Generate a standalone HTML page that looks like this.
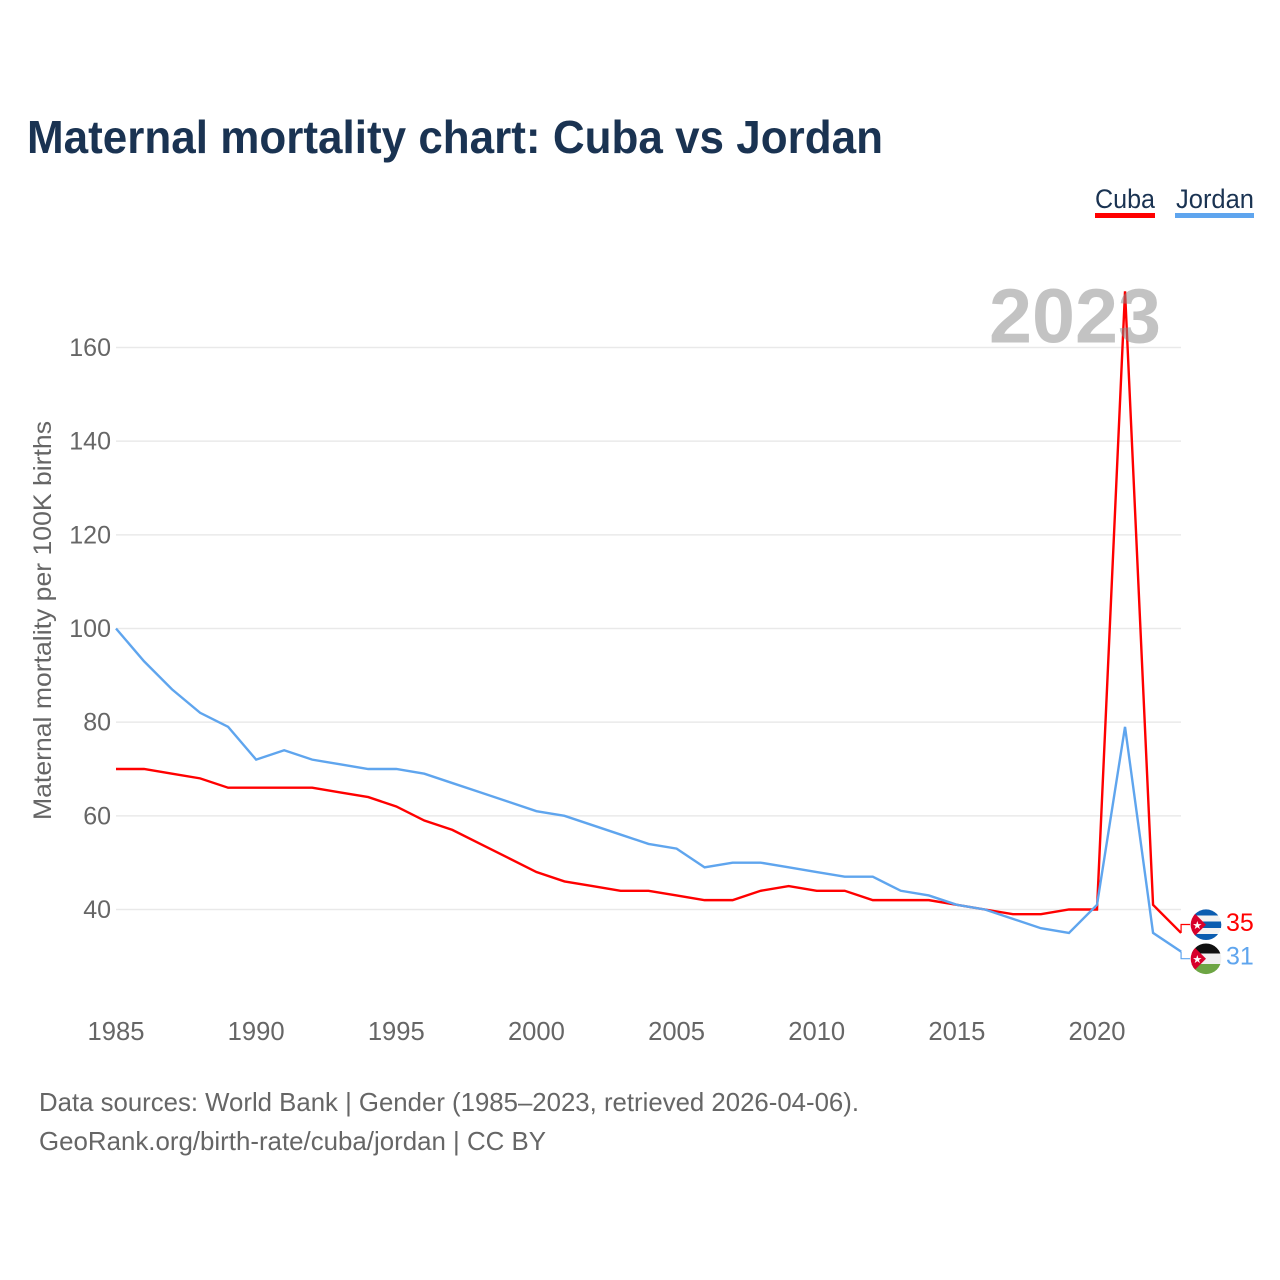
<!DOCTYPE html>
<html lang="en">
<head>
<meta charset="utf-8">
<title>Maternal mortality chart: Cuba vs Jordan</title>
<style>
html,body{margin:0;padding:0;background:#fff;width:1280px;height:1280px;overflow:hidden}
svg{display:block}
text{font-family:"Liberation Sans",sans-serif}
</style>
</head>
<body>
<svg id="chart" xmlns="http://www.w3.org/2000/svg" width="1280" height="1280" viewBox="0 0 1280 1280">
  <defs>
    <clipPath id="clip-cuba"><circle cx="1206" cy="924.7" r="15.3"/></clipPath>
    <clipPath id="clip-jordan"><circle cx="1206" cy="958.8" r="15.3"/></clipPath>
  </defs>
  <rect width="1280" height="1280" fill="#fff"/>
  <text x="27" y="153" font-size="46" font-weight="700" fill="#1a3352" textLength="856" lengthAdjust="spacingAndGlyphs">Maternal mortality chart: Cuba vs Jordan</text>

  <g>
    <text x="1095" y="208" font-size="27" fill="#1a3352" textLength="60" lengthAdjust="spacingAndGlyphs">Cuba</text>
    <rect x="1095" y="213" width="60" height="5" fill="#ff0000"/>
  </g>
  <g>
    <text x="1176" y="208" font-size="27" fill="#1a3352" textLength="78" lengthAdjust="spacingAndGlyphs">Jordan</text>
    <rect x="1175" y="213" width="79" height="5" fill="#5fa5ee"/>
  </g>

  <g id="grid"></g>
  <g id="y-ticks"></g>
  <g id="x-ticks"></g>
  <text transform="translate(51,820) rotate(-90)" font-size="25" fill="#666" textLength="399" lengthAdjust="spacingAndGlyphs">Maternal mortality per 100K births</text>

  <g id="series"></g>
  <text x="989" y="342.5" font-size="77" font-weight="700" fill="#888" fill-opacity="0.5" textLength="172" lengthAdjust="spacingAndGlyphs">2023</text>

  <g clip-path="url(#clip-cuba)">
    <rect x="1190" y="909" width="32" height="32" fill="#f2f2f2"/>
    <rect x="1190" y="909" width="32" height="6.5" fill="#0a5cb0"/>
    <rect x="1190" y="921.5" width="32" height="6.5" fill="#0a5cb0"/>
    <rect x="1190" y="934" width="32" height="7" fill="#0a5cb0"/>
    <polygon points="1190,908.7 1206,924.7 1190,940.7" fill="#d8002b"/>
    <text x="1197.3" y="929" font-size="11" fill="#fff" text-anchor="middle">★</text>
  </g>
  <g clip-path="url(#clip-jordan)">
    <rect x="1190" y="943" width="32" height="10.5" fill="#111"/>
    <rect x="1190" y="953.5" width="32" height="10.5" fill="#f0f0f0"/>
    <rect x="1190" y="964" width="32" height="11" fill="#6da544"/>
    <polygon points="1190,942.8 1206,958.8 1190,974.8" fill="#d8002b"/>
    <text x="1197.3" y="963" font-size="11" fill="#fff" text-anchor="middle">★</text>
  </g>

  <g id="end-labels"></g>

  <text x="39" y="1111" font-size="26" fill="#666" textLength="820" lengthAdjust="spacingAndGlyphs">Data sources: World Bank | Gender (1985–2023, retrieved 2026-04-06).</text>
  <text x="39" y="1150" font-size="26" fill="#666" textLength="507" lengthAdjust="spacingAndGlyphs">GeoRank.org/birth-rate/cuba/jordan | CC BY</text>
</svg>
<script>
var years = [1985,1986,1987,1988,1989,1990,1991,1992,1993,1994,1995,1996,1997,1998,1999,2000,2001,2002,2003,2004,2005,2006,2007,2008,2009,2010,2011,2012,2013,2014,2015,2016,2017,2018,2019,2020,2021,2022,2023];
var cubaValues = [70,70,69,68,66,66,66,66,65,64,62,59,57,54,51,48,46,45,44,44,43,42,42,44,45,44,44,42,42,42,41,40,39,39,40,40,172,41,35];
var jordanValues = [100,93,87,82,79,72,74,72,71,70,70,69,67,65,63,61,60,58,56,54,53,49,50,50,49,48,47,47,44,43,41,40,38,36,35,41,79,35,31];
var yTickValues = [40,60,80,100,120,140,160];
var xTickValues = [1985,1990,1995,2000,2005,2010,2015,2020];

var SVGNS = 'http://www.w3.org/2000/svg';
function xScale(year){ return 116 + (year - 1985) * (1097 - 116) / 35; }
function yScale(value){ return 909.5 - (value - 40) * (909.5 - 347.5) / 120; }
function make(tag, parent){
  var el = document.createElementNS(SVGNS, tag);
  document.getElementById(parent).appendChild(el);
  return el;
}

yTickValues.forEach(function(v){
  var line = make('line', 'grid');
  
  
  line.setAttribute('x1', 116);
  line.setAttribute('x2', 1181);
  line.setAttribute('y1', yScale(v));
  line.setAttribute('y2', yScale(v));
  line.setAttribute('stroke', '#e9e9e9');
  line.setAttribute('stroke-width', '1.5');

  var label = make('text', 'y-ticks');
  
  
  label.setAttribute('x', 111);
  label.setAttribute('y', yScale(v) + 8.5);
  label.setAttribute('text-anchor', 'end');
  label.setAttribute('font-size', '25');
  label.setAttribute('fill', '#666');
  label.textContent = v;
});

xTickValues.forEach(function(y){
  var label = make('text', 'x-ticks');
  
  
  label.setAttribute('x', xScale(y));
  label.setAttribute('y', 1040);
  label.setAttribute('text-anchor', 'middle');
  label.setAttribute('font-size', '25.6');
  label.setAttribute('fill', '#666');
  label.textContent = y;
});

function drawSeries(values, color, name, labelY, valueBaseline){
  var pts = values.map(function(v, i){ return xScale(years[i]) + ',' + yScale(v); });
  var lastX = xScale(years[years.length - 1]);
  var lastY = yScale(values[values.length - 1]);

  var line = make('polyline', 'series');
  
  
  line.setAttribute('points', pts.join(' '));
  line.setAttribute('fill', 'none');
  line.setAttribute('stroke', color);
  line.setAttribute('stroke-width', '2.4');
  line.setAttribute('stroke-linejoin', 'miter');

  var leader = make('polyline', 'series');
  
  
  leader.setAttribute('points', lastX + ',' + lastY + ' ' + lastX + ',' + labelY + ' 1190,' + labelY);
  leader.setAttribute('fill', 'none');
  leader.setAttribute('stroke', color);
  leader.setAttribute('stroke-width', '1.2');

  var label = make('text', 'end-labels');
  
  
  label.setAttribute('x', 1226);
  label.setAttribute('y', valueBaseline);
  label.setAttribute('font-size', '25');
  label.setAttribute('fill', color);
  label.textContent = values[values.length - 1];
}
drawSeries(cubaValues, '#ff0000', 'cuba', 924.5, 931);
drawSeries(jordanValues, '#5fa5ee', 'jordan', 958.7, 964.5);
</script>
</body>
</html>
